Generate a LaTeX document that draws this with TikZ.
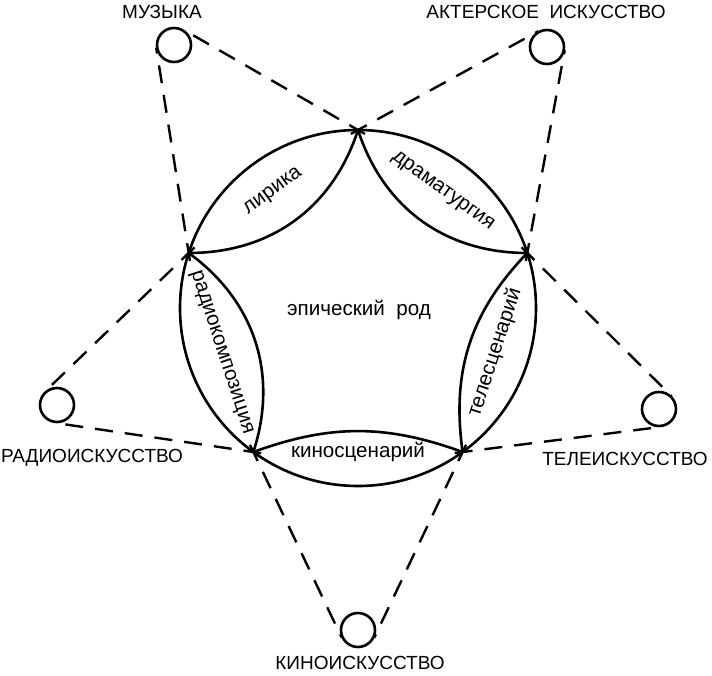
\documentclass[tikz,border=0pt]{standalone}
\usepackage{fontspec}
\setmainfont{Liberation Sans}
\usetikzlibrary{positioning,calc}
\tikzstyle{art}=[draw,circle,minimum size=17pt,inner sep=0pt,line width=1.3pt]
\tikzstyle{artname}=[font=\fontsize{9.5}{11}\selectfont]
\tikzstyle{genre}=[font=\fontsize{10.3}{12}\selectfont]
\tikzstyle{link}=[line width=1.2pt,dash pattern=on 9pt off 6pt]

\begin{document}
\begin{tikzpicture}[x=0.5pt,y=0.5pt,line width=1.3pt]
\useasboundingbox (-358,-367) rectangle (354,308);
\coordinate (c) at (0,0);
\foreach \n/\a in {1/90,2/162,3/234,4/306,5/18}
  \coordinate (v\n) at (\a:178);
\draw (c) circle (178);
% inner arcs of the petals
\draw (v1) to[bend left=36] (v2);
\draw (v2) to[bend left=36] (v3);
\draw (v3) to[bend left=20] (v4);
\draw (v4) to[bend left=26] (v5);
\draw (v5) to[bend left=36] (v1);
\path (v1) -- (v2) node[genre,midway,sloped] {лирика};
\path (v2) -- (v3) node[genre,midway,sloped] {радиокомпозиция};
\path (v3) -- (v4) node[genre,midway,sloped] {киносценарий};
\path (v4) -- (v5) node[genre,midway,sloped] {телесценарий};
\path (v5) -- (v1) node[genre,midway,sloped] {драматургия};
\node[genre] (epic) at (1,-2) {эпический\ \ род};
% arts round the star
\node[art] (mus) at (-184,263) {};
\node[art] (act) at (189,261) {};
\node[art] (tel) at (301,-101) {};
\node[art] (kin) at (0,-322) {};
\node[art] (rad) at (-301,-97) {};
\node[artname] (musname) at (-196,296) {МУЗЫКА};
\node[artname] (actname) at (188,296) {АКТЕРСКОЕ\ \ ИСКУССТВО};
\node[artname] (telname) at (267,-151) {ТЕЛЕИСКУССТВО};
\node[artname] (kinname) at (2,-355) {КИНОИСКУССТВО};
\node[artname] (radname) at (-266,-150) {РАДИОИСКУССТВО};
% dashed tangents from the vertices
\foreach \m/\v/\s in {mus/1/1,mus/2/-1,act/5/1,act/1/-1,tel/4/1,tel/5/-1,kin/3/1,kin/4/-1,rad/2/1,rad/3/-1}
  \draw[link,shorten <=-4pt] let \p1=($(v\v)-(\m.center)$),
    \n1={\s*acos(9/veclen(\x1,\y1))} in
    (v\v) -- ($(\m.center)!9pt!\n1:(v\v)$);
\end{tikzpicture}
\end{document}
